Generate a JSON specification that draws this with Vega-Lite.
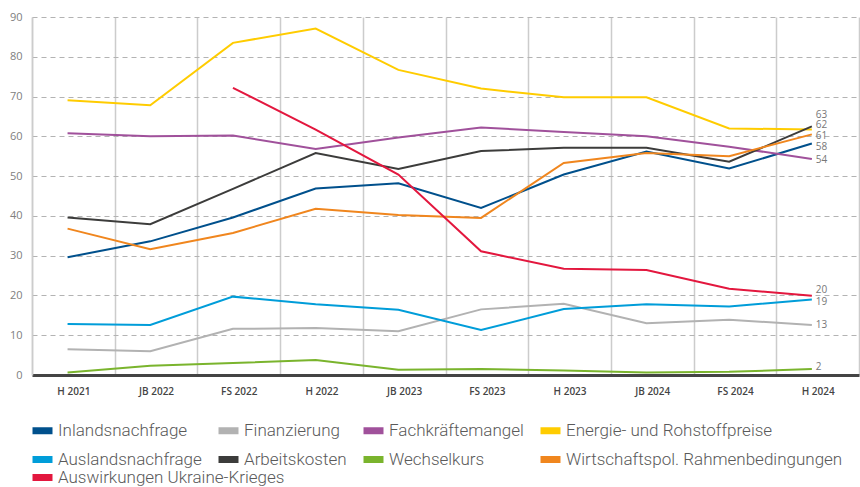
{
  "$schema": "https://vega.github.io/schema/vega-lite/v6.json",
  "autosize": {"type": "none"},
  "padding": {"left": 32, "top": 17, "right": 1, "bottom": 112},
  "width": 827,
  "height": 358,
  "config": {
    "view": {"stroke": null},
    "font": "Open Sans",
    "axisY": {
      "title": null,
      "values": [0, 10, 20, 30, 40, 50, 60, 70, 80, 90],
      "grid": true,
      "gridDash": [5, 4],
      "gridColor": "#b3b3b3",
      "gridWidth": 1.2,
      "ticks": false,
      "domain": true,
      "domainColor": "#cccccc",
      "domainWidth": 1.5,
      "labelPadding": 10,
      "labelFont": "Open Sans",
      "labelFontSize": 11,
      "labelColor": "#808080",
      "labelOverlap": false
    },
    "legend": {
      "title": null,
      "orient": "none",
      "direction": "horizontal",
      "columnPadding": 2,
      "rowPadding": 0,
      "symbolType": "M-1.25,0H1.25",
      "symbolSize": 256,
      "symbolStrokeWidth": 7,
      "labelOffset": 4,
      "labelFont": "Roboto",
      "labelFontWeight": 300,
      "labelFontSize": 17,
      "labelColor": "#5a5a5a",
      "labelLimit": 400
    }
  },
  "datasets": {
    "main": [
      {"period": "H 2021", "series": "Inlandsnachfrage", "value": 29.6},
      {"period": "JB 2022", "series": "Inlandsnachfrage", "value": 33.6},
      {"period": "FS 2022", "series": "Inlandsnachfrage", "value": 39.6},
      {"period": "H 2022", "series": "Inlandsnachfrage", "value": 46.9},
      {"period": "JB 2023", "series": "Inlandsnachfrage", "value": 48.2},
      {"period": "FS 2023", "series": "Inlandsnachfrage", "value": 42.0},
      {"period": "H 2023", "series": "Inlandsnachfrage", "value": 50.4},
      {"period": "JB 2024", "series": "Inlandsnachfrage", "value": 56.2},
      {"period": "FS 2024", "series": "Inlandsnachfrage", "value": 51.9},
      {"period": "H 2024", "series": "Inlandsnachfrage", "value": 58.2},
      {"period": "H 2021", "series": "Finanzierung", "value": 6.5},
      {"period": "JB 2022", "series": "Finanzierung", "value": 6.0},
      {"period": "FS 2022", "series": "Finanzierung", "value": 11.6},
      {"period": "H 2022", "series": "Finanzierung", "value": 11.8},
      {"period": "JB 2023", "series": "Finanzierung", "value": 11.0},
      {"period": "FS 2023", "series": "Finanzierung", "value": 16.5},
      {"period": "H 2023", "series": "Finanzierung", "value": 17.9},
      {"period": "JB 2024", "series": "Finanzierung", "value": 13.0},
      {"period": "FS 2024", "series": "Finanzierung", "value": 13.9},
      {"period": "H 2024", "series": "Finanzierung", "value": 12.6},
      {"period": "H 2021", "series": "Fachkräftemangel", "value": 60.8},
      {"period": "JB 2022", "series": "Fachkräftemangel", "value": 60.0},
      {"period": "FS 2022", "series": "Fachkräftemangel", "value": 60.2},
      {"period": "H 2022", "series": "Fachkräftemangel", "value": 56.8},
      {"period": "JB 2023", "series": "Fachkräftemangel", "value": 59.7},
      {"period": "FS 2023", "series": "Fachkräftemangel", "value": 62.2},
      {"period": "H 2023", "series": "Fachkräftemangel", "value": 61.1},
      {"period": "JB 2024", "series": "Fachkräftemangel", "value": 60.0},
      {"period": "FS 2024", "series": "Fachkräftemangel", "value": 57.4},
      {"period": "H 2024", "series": "Fachkräftemangel", "value": 54.3},
      {"period": "H 2021", "series": "Energie- und Rohstoffpreise", "value": 69.1},
      {"period": "JB 2022", "series": "Energie- und Rohstoffpreise", "value": 67.8},
      {"period": "FS 2022", "series": "Energie- und Rohstoffpreise", "value": 83.5},
      {"period": "H 2022", "series": "Energie- und Rohstoffpreise", "value": 87.1},
      {"period": "JB 2023", "series": "Energie- und Rohstoffpreise", "value": 76.7},
      {"period": "FS 2023", "series": "Energie- und Rohstoffpreise", "value": 72.0},
      {"period": "H 2023", "series": "Energie- und Rohstoffpreise", "value": 69.8},
      {"period": "JB 2024", "series": "Energie- und Rohstoffpreise", "value": 69.8},
      {"period": "FS 2024", "series": "Energie- und Rohstoffpreise", "value": 62.0},
      {"period": "H 2024", "series": "Energie- und Rohstoffpreise", "value": 61.7},
      {"period": "H 2021", "series": "Auslandsnachfrage", "value": 12.8},
      {"period": "JB 2022", "series": "Auslandsnachfrage", "value": 12.6},
      {"period": "FS 2022", "series": "Auslandsnachfrage", "value": 19.7},
      {"period": "H 2022", "series": "Auslandsnachfrage", "value": 17.8},
      {"period": "JB 2023", "series": "Auslandsnachfrage", "value": 16.4},
      {"period": "FS 2023", "series": "Auslandsnachfrage", "value": 11.3},
      {"period": "H 2023", "series": "Auslandsnachfrage", "value": 16.6},
      {"period": "JB 2024", "series": "Auslandsnachfrage", "value": 17.8},
      {"period": "FS 2024", "series": "Auslandsnachfrage", "value": 17.2},
      {"period": "H 2024", "series": "Auslandsnachfrage", "value": 19.0},
      {"period": "H 2021", "series": "Arbeitskosten", "value": 39.6},
      {"period": "JB 2022", "series": "Arbeitskosten", "value": 37.9},
      {"period": "FS 2022", "series": "Arbeitskosten", "value": 46.8},
      {"period": "H 2022", "series": "Arbeitskosten", "value": 55.8},
      {"period": "JB 2023", "series": "Arbeitskosten", "value": 51.8},
      {"period": "FS 2023", "series": "Arbeitskosten", "value": 56.3},
      {"period": "H 2023", "series": "Arbeitskosten", "value": 57.1},
      {"period": "JB 2024", "series": "Arbeitskosten", "value": 57.1},
      {"period": "FS 2024", "series": "Arbeitskosten", "value": 53.6},
      {"period": "H 2024", "series": "Arbeitskosten", "value": 62.5},
      {"period": "H 2021", "series": "Wechselkurs", "value": 0.6},
      {"period": "JB 2022", "series": "Wechselkurs", "value": 2.3},
      {"period": "FS 2022", "series": "Wechselkurs", "value": 3.0},
      {"period": "H 2022", "series": "Wechselkurs", "value": 3.8},
      {"period": "JB 2023", "series": "Wechselkurs", "value": 1.3},
      {"period": "FS 2023", "series": "Wechselkurs", "value": 1.5},
      {"period": "H 2023", "series": "Wechselkurs", "value": 1.1},
      {"period": "JB 2024", "series": "Wechselkurs", "value": 0.6},
      {"period": "FS 2024", "series": "Wechselkurs", "value": 0.8},
      {"period": "H 2024", "series": "Wechselkurs", "value": 1.5},
      {"period": "H 2021", "series": "Wirtschaftspol. Rahmenbedingungen", "value": 36.8},
      {"period": "JB 2022", "series": "Wirtschaftspol. Rahmenbedingungen", "value": 31.6},
      {"period": "FS 2022", "series": "Wirtschaftspol. Rahmenbedingungen", "value": 35.7},
      {"period": "H 2022", "series": "Wirtschaftspol. Rahmenbedingungen", "value": 41.8},
      {"period": "JB 2023", "series": "Wirtschaftspol. Rahmenbedingungen", "value": 40.2},
      {"period": "FS 2023", "series": "Wirtschaftspol. Rahmenbedingungen", "value": 39.5},
      {"period": "H 2023", "series": "Wirtschaftspol. Rahmenbedingungen", "value": 53.3},
      {"period": "JB 2024", "series": "Wirtschaftspol. Rahmenbedingungen", "value": 55.8},
      {"period": "FS 2024", "series": "Wirtschaftspol. Rahmenbedingungen", "value": 55.0},
      {"period": "H 2024", "series": "Wirtschaftspol. Rahmenbedingungen", "value": 60.5},
      {"period": "FS 2022", "series": "Auswirkungen Ukraine-Krieges", "value": 72.2},
      {"period": "H 2022", "series": "Auswirkungen Ukraine-Krieges", "value": 61.7},
      {"period": "JB 2023", "series": "Auswirkungen Ukraine-Krieges", "value": 50.4},
      {"period": "FS 2023", "series": "Auswirkungen Ukraine-Krieges", "value": 31.1},
      {"period": "H 2023", "series": "Auswirkungen Ukraine-Krieges", "value": 26.7},
      {"period": "JB 2024", "series": "Auswirkungen Ukraine-Krieges", "value": 26.4},
      {"period": "FS 2024", "series": "Auswirkungen Ukraine-Krieges", "value": 21.7},
      {"period": "H 2024", "series": "Auswirkungen Ukraine-Krieges", "value": 19.9}
    ],
    "labels": [
      {"period": "H 2024", "series": "Arbeitskosten", "label": "63", "pos": 65.4},
      {"period": "H 2024", "series": "Energie- und Rohstoffpreise", "label": "62", "pos": 62.8},
      {"period": "H 2024", "series": "Wirtschaftspol. Rahmenbedingungen", "label": "61", "pos": 60.2},
      {"period": "H 2024", "series": "Inlandsnachfrage", "label": "58", "pos": 57.3},
      {"period": "H 2024", "series": "Fachkräftemangel", "label": "54", "pos": 54.0},
      {"period": "H 2024", "series": "Auswirkungen Ukraine-Krieges", "label": "20", "pos": 21.3},
      {"period": "H 2024", "series": "Auslandsnachfrage", "label": "19", "pos": 18.3},
      {"period": "H 2024", "series": "Finanzierung", "label": "13", "pos": 12.6},
      {"period": "H 2024", "series": "Wechselkurs", "label": "2", "pos": 2.1}
    ]
  },
  "encoding": {
    "x": {
      "field": "period",
      "type": "ordinal",
      "bandPosition": 0.43,
      "scale": {"type": "band", "paddingInner": 0, "paddingOuter": 0,
        "domain": ["H 2021", "JB 2022", "FS 2022", "H 2022", "JB 2023", "FS 2023", "H 2023", "JB 2024", "FS 2024", "H 2024"]},
      "axis": {
        "title": null,
        "labelAngle": 0,
        "tickBand": "extent",
        "grid": true,
        "gridColor": "#cccccc",
        "gridWidth": 1.5,
        "ticks": false,
        "domain": true,
        "domainColor": "#444444",
        "domainWidth": 3,
        "labelPadding": 11,
        "labelFont": "Open Sans",
        "labelFontSize": 10,
        "labelFontWeight": 600,
        "labelColor": "#444444",
        "zindex": 0
      }
    },
    "y": {
      "type": "quantitative",
      "scale": {"domain": [0, 90], "nice": false, "zero": true}
    }
  },
  "layer": [
    {
      "data": {"name": "main"},
      "transform": [{"filter": "datum.series !== 'Auswirkungen Ukraine-Krieges'"}],
      "mark": {"type": "line", "strokeWidth": 2},
      "encoding": {
        "y": {"field": "value", "type": "quantitative", "scale": {"domain": [0, 90], "nice": false, "zero": true}},
        "color": {
          "field": "series",
          "type": "nominal",
          "scale": {
            "domain": ["Inlandsnachfrage", "Finanzierung", "Fachkräftemangel", "Energie- und Rohstoffpreise", "Auslandsnachfrage", "Arbeitskosten", "Wechselkurs", "Wirtschaftspol. Rahmenbedingungen"],
            "range": ["#00508c", "#b2b2b2", "#a0519b", "#ffcc00", "#009dd9", "#3c3c3b", "#7ab42d", "#f0861e"]
          },
          "legend": {
            "legendX": -1,
            "legendY": 402,
            "columns": 4
          }
        }
      }
    },
    {
      "data": {"name": "main"},
      "transform": [{"filter": "datum.series === 'Auswirkungen Ukraine-Krieges'"}],
      "mark": {"type": "line", "strokeWidth": 2},
      "encoding": {
        "y": {"field": "value", "type": "quantitative", "scale": {"domain": [0, 90], "nice": false, "zero": true}},
        "stroke": {
          "field": "series",
          "type": "nominal",
          "scale": {
            "domain": ["Auswirkungen Ukraine-Krieges"],
            "range": ["#e3173e"]
          },
          "legend": {
            "legendX": -1,
            "legendY": 449,
            "columns": 1
          }
        }
      }
    },
    {
      "data": {"name": "labels"},
      "mark": {"type": "text", "align": "left", "baseline": "middle", "dx": 4, "fontSize": 10, "font": "Open Sans", "color": "#777777"},
      "encoding": {
        "y": {"field": "pos", "type": "quantitative", "scale": {"domain": [0, 90], "nice": false, "zero": true}},
        "text": {"field": "label"}
      }
    }
  ]
}
